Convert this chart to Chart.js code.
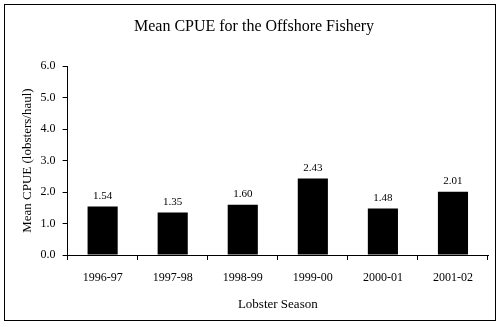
<!DOCTYPE html>
<html>
<head>
<meta charset="utf-8">
<script src="https://cdn.jsdelivr.net/npm/chart.js@4"></script>
<style>
    html, body { margin: 0; padding: 0; background: #fff; }
    #wrap { width: 500px; height: 327px; position: relative; }
</style>
</head>
<body>
<div id="wrap"><canvas id="cpueChart" width="500" height="327"></canvas></div>
<script>
// данные с графика
const seasons = ["1996-97", "1997-98", "1998-99", "1999-00", "2000-01", "2001-02"];
const meanCpue = [1.54, 1.35, 1.60, 2.43, 1.48, 2.01];
const yTicks = [0, 1, 2, 3, 4, 5, 6];

const serif = "'Liberation Serif', 'Times New Roman', serif";

// рамка вокруг всей картинки
const framePlugin = {
    id: "frame",
    beforeDraw(chart) {
        const ctx = chart.ctx;
        ctx.save();
        ctx.fillStyle = "#fff";
        ctx.fillRect(0, 0, chart.width, chart.height);
        ctx.strokeStyle = "#000";
        ctx.lineWidth = 1;
        ctx.strokeRect(4.5, 4.5, 491, 316);
        ctx.restore();
    }
};

// подписи значений над столбцами
const valueLabels = {
    id: "valueLabels",
    afterDatasetsDraw(chart) {
        const ctx = chart.ctx;
        const meta = chart.getDatasetMeta(0);
        ctx.save();
        ctx.fillStyle = "#000";
        ctx.font = "11px " + serif;
        ctx.textAlign = "center";
        ctx.textBaseline = "bottom";
        meta.data.forEach((bar, i) => {
            ctx.fillText(meanCpue[i].toFixed(2), bar.x, bar.y - 5);
        });
        ctx.restore();
    }
};

new Chart(document.getElementById("cpueChart"), {
    type: "bar",
    data: {
        labels: seasons,
        datasets: [{
            data: meanCpue,
            backgroundColor: "#000",
            borderWidth: 0,
            barPercentage: 0.43,
            categoryPercentage: 1
        }]
    },
    options: {
        responsive: false,
        animation: false,
        layout: { padding: { left: 20, right: 12, top: 9, bottom: 15 } },
        plugins: {
            legend: { display: false },
            tooltip: { enabled: false },
            title: {
                display: true,
                text: "Mean CPUE for the Offshore Fishery",
                color: "#000",
                font: { family: serif, size: 16, weight: "normal" },
                padding: { top: 8, bottom: 30 }
            }
        },
        scales: {
            x: {
                grid: {
                    display: true,
                    drawOnChartArea: false,
                    color: "#000",
                    tickLength: 5,
                    offset: true
                },
                border: { color: "#000", width: 1 },
                ticks: { color: "#000", font: { family: serif, size: 12 }, maxRotation: 0, padding: 11 },
                title: {
                    display: true,
                    text: "Lobster Season",
                    color: "#000",
                    font: { family: serif, size: 13 },
                    padding: { top: 0, bottom: 0 }
                }
            },
            y: {
                min: 0,
                max: 6,
                afterBuildTicks(axis) {
                    axis.ticks = yTicks.map(v => ({ value: v }));
                },
                grid: {
                    display: true,
                    drawOnChartArea: false,
                    color: "#000",
                    tickLength: 5
                },
                border: { color: "#000", width: 1 },
                ticks: {
                    color: "#000",
                    font: { family: serif, size: 12 },
                    padding: 7,
                    callback: v => Number(v).toFixed(1)
                },
                title: {
                    display: true,
                    text: "Mean CPUE (lobsters/haul)",
                    color: "#000",
                    font: { family: serif, size: 13 },
                    padding: { top: 0, bottom: -2 }
                }
            }
        }
    },
    plugins: [framePlugin, valueLabels]
});
</script>
</body>
</html>
